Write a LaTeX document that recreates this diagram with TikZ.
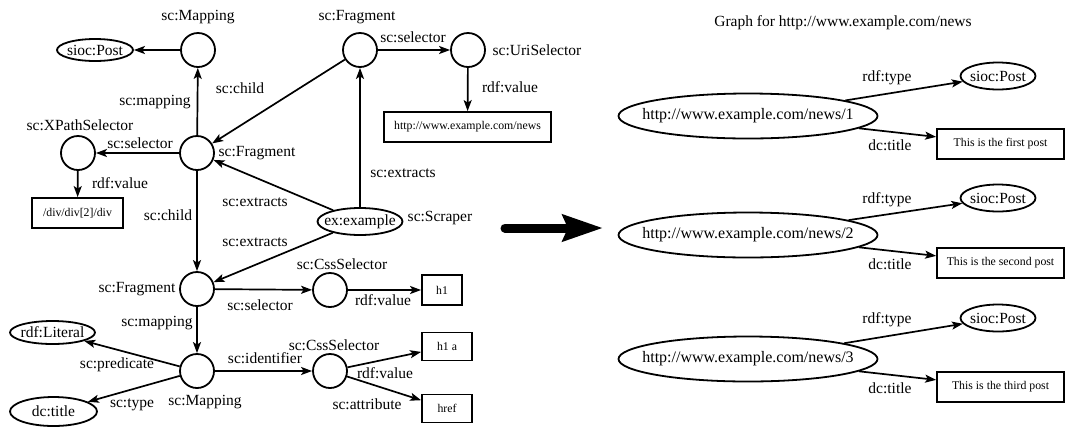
\documentclass[tikz,border=0pt]{standalone}
\usepackage{fontspec}
\setmainfont{Liberation Serif}
\usetikzlibrary{arrows.meta,shapes.geometric}
\begin{document}
\begin{tikzpicture}[x=1pt,y=-1pt,
  lbl/.style={inner sep=0pt, font=\fontsize{15.5}{18}\selectfont},
  circ/.style={draw, circle, line width=1.8pt, minimum size=34pt, inner sep=0pt},
  elln/.style n args={3}{draw, ellipse, line width=1.8pt, minimum width=#1, minimum height=#2, inner sep=0pt, label={[lbl]center:#3}},
  bigell/.style={draw, ellipse, line width=1.8pt, minimum width=259pt, minimum height=45pt, inner sep=0pt, label={[lbl, font=\fontsize{16}{18}\selectfont]center:#1}},
  boxn/.style n args={3}{draw, rectangle, line width=1.8pt, minimum width=#1, minimum height=#2, inner sep=0pt, label={[inner sep=0pt, font=\fontsize{11.8}{14}\selectfont]center:#3}},
  edge/.style={line width=1.7pt, -{Stealth[length=11pt,width=8pt,inset=2.5pt]}}
]
\useasboundingbox (0,0) rectangle (1067,432);
% ---------- left graph ----------
\node[circ] (m1) at (198,50) {};
\node[elln={76pt}{22pt}{sioc:Post}] (p0) at (95,50) {};
\node[circ] (f1) at (197,153) {};
\node[circ] (xp) at (78,153) {};
\node[boxn={91pt}{30pt}{/div/div[2]/div}] (div) at (77.5,213) {};
\node[circ] (f0) at (360,50) {};
\node[circ] (uri) at (468,50) {};
\node[boxn={167pt}{30pt}{http://www.example.com/news}] (news) at (467.5,127) {};
\node[elln={85pt}{27pt}{ex:example}] (ex) at (360,221.5) {};
\node[circ] (f2) at (197,289) {};
\node[circ] (css1) at (330,290) {};
\node[boxn={40pt}{30pt}{h1}] (h1) at (442,290) {};
\node[circ] (m2) at (197,371) {};
\node[elln={85pt}{23pt}{rdf:Literal}] (lit) at (52.5,332.5) {};
\node[elln={87pt}{29pt}{dc:title}] (dct) at (53.5,411.5) {};
\node[circ] (css2) at (330,371) {};
\node[boxn={50pt}{28pt}{h1 a}] (h1a) at (447,346.5) {};
\node[boxn={50pt}{28pt}{href}] (href) at (447,408.5) {};

\draw[edge] (m1) -- (p0);
\draw[edge] (f1) -- (m1);
\draw[edge] (f0) -- (f1);
\draw[edge] (f1) -- (xp);
\draw[edge] (xp) -- (div);
\draw[edge] (f0) -- (uri);
\draw[edge] (uri) -- (news);
\draw[edge] (ex) -- (f0);
\draw[edge] (ex) -- (f1);
\draw[edge] (ex) -- (f2);
\draw[edge] (f1) -- (f2);
\draw[edge] (f2) -- (css1);
\draw[edge] (css1) -- (h1);
\draw[edge] (f2) -- (m2);
\draw[edge] (m2) -- (lit);
\draw[edge] (m2) -- (dct);
\draw[edge] (m2) -- (css2);
\draw[edge] (css2) -- (h1a);
\draw[edge] (css2) -- (href);

\node[lbl] (t1) at (198,17) {sc:Mapping};
\node[lbl] (t2) at (155,102) {sc:mapping};
\node[lbl] (t3) at (240,88) {sc:child};
\node[lbl] (t4) at (80,125) {sc:XPathSelector};
\node[lbl] (t5) at (140,143) {sc:selector};
\node[lbl] (t6) at (257,153) {sc:Fragment};
\node[lbl] (t7) at (120,183) {rdf:value};
\node[lbl] (t8) at (168,215) {sc:child};
\node[lbl] (t9) at (255,202) {sc:extracts};
\node[lbl] (t10) at (255,242) {sc:extracts};
\node[lbl] (t11) at (357,17) {sc:Fragment};
\node[lbl] (t12) at (413,37) {sc:selector};
\node[lbl] (t13) at (537,50) {sc:UriSelector};
\node[lbl] (t14) at (510,87) {rdf:value};
\node[lbl] (t15) at (403,173) {sc:extracts};
\node[lbl] (t16) at (440,218) {sc:Scraper};
\node[lbl] (t17) at (137,289) {sc:Fragment};
\node[lbl] (t18) at (260,305) {sc:selector};
\node[lbl] (t19) at (342,264) {sc:CssSelector};
\node[lbl] (t20) at (383,300) {rdf:value};
\node[lbl] (t21) at (157,323) {sc:mapping};
\node[lbl] (t22) at (117,365) {sc:predicate};
\node[lbl] (t23) at (132,405) {sc:type};
\node[lbl] (t24) at (205,402) {sc:Mapping};
\node[lbl] (t25) at (265,358) {sc:identifier};
\node[lbl] (t26) at (334,345) {sc:CssSelector};
\node[lbl] (t27) at (385,373) {rdf:value};
\node[lbl] (t28) at (367,404) {sc:attribute};

% ---------- big arrow ----------
\coordinate (ba) at (505,228);
\coordinate (bb) at (603,228);
\draw[line width=9pt, line cap=round, -{Stealth[length=40pt,width=26pt,inset=5pt]}] (ba) -- (bb);

% ---------- right graph ----------
\node[lbl] (title) at (843,23) {Graph for http://www.example.com/news};
\foreach \i/\y/\py/\by/\txt in {1/116/76/144/first, 2/235/198/263/second, 3/359/318/387/third}{
  \node[bigell={http://www.example.com/news/\i}] (u\i) at (748,\y) {};
  \node[elln={75pt}{27pt}{sioc:Post}] (sp\i) at (998,\py) {};
  \node[boxn={127pt}{30pt}{This is the \txt\ post}] (bx\i) at (1000.5,\by) {};
  \draw[edge] (u\i) -- (sp\i);
  \draw[edge] (u\i) -- (bx\i);
  \node[lbl] (rt\i) at (887,\py+2) {rdf:type};
  \node[lbl] (dt\i) at (890,\by+1) {dc:title};
}
\end{tikzpicture}
\end{document}
